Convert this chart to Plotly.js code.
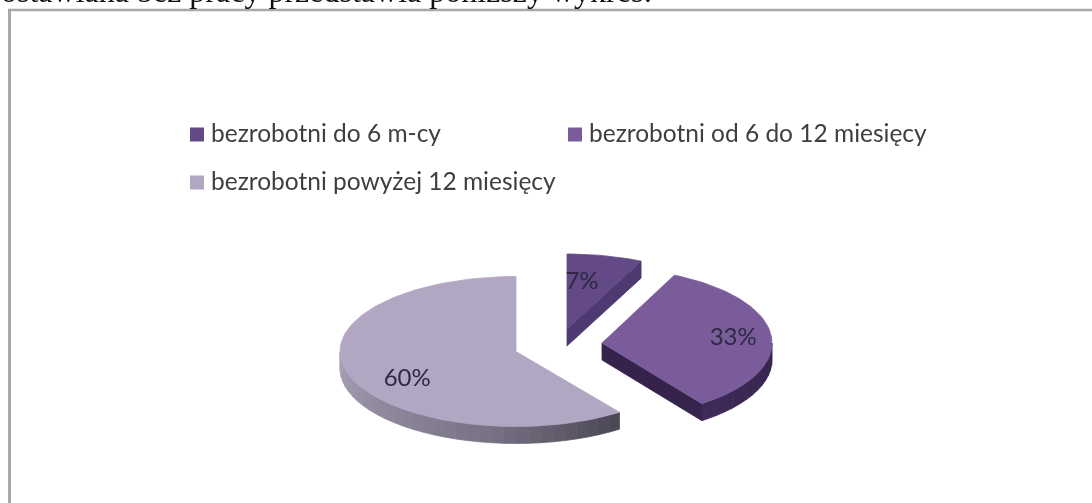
<!DOCTYPE html>
<html>
<head>
<meta charset="utf-8">
<script src="https://cdn.plot.ly/plotly-3.0.1.min.js"></script>
<style>html,body{margin:0;padding:0;background:#fff;overflow:hidden}#chart{width:1092px;height:503px}
.cartesianlayer{filter:blur(0.7px)}</style>
</head>
<body>
<div id="chart"></div>
<script>
// --- data ---
var categories = ['bezrobotni do 6 m-cy', 'bezrobotni od 6 do 12 miesięcy', 'bezrobotni powyżej 12 miesięcy'];
var shares = [7, 33, 60];
var introText = 'ostawiana bez pracy przedstawia poniższy wykres:';

// --- geometry & style (pixel-scaled axes) ---
var faceColors = ['#634a86', '#7b5c9b', '#b1a7c3'];
var sideStops = [
  [[0, '#4e3a70'], [1, '#4e3a70']],
  [[0, '#35234c'], [1, '#3f2b58']],
  [[0, '#4c4856'], [0.35, '#7a7386'], [0.65, '#8f889c'], [1, '#aaa3b6']]
];
var cutColors = ['#4e3a70', '#35234c', '#4c4856'];
var centerX = [567, 602, 516], centerY = [329, 343, 351.5];
var radiusX = [174, 170, 176], radiusY = 75, depth = 17;
var labelRadius = [0.5, 0.775, 0.65], labelNudgeX = [-4, 0, 0], labelNudgeY = [-9, 1, 13.5];
var swatchX = [197, 575, 197], swatchY = [134.5, 134.5, 182.5], textGap = 14, textDrop = 1.5;

function hexToRgb(h) { return [1, 3, 5].map(function (i) { return parseInt(h.substr(i, 2), 16); }); }
function ramp(stops, t) {
  for (var i = 1; i < stops.length; i++) {
    if (t <= stops[i][0]) {
      var a = stops[i - 1], b = stops[i], k = (t - a[0]) / (b[0] - a[0] || 1);
      var ca = hexToRgb(a[1]), cb = hexToRgb(b[1]);
      return 'rgb(' + ca.map(function (v, j) { return Math.round(v + (cb[j] - v) * k); }).join(',') + ')';
    }
  }
  return stops[stops.length - 1][1];
}
function pt(i, deg, dy) {
  var r = deg * Math.PI / 180;
  return [centerX[i] + radiusX[i] * Math.sin(r), centerY[i] - radiusY * Math.cos(r) + (dy || 0)];
}
function poly(points, color) {
  var xs = points.map(function (p) { return p[0]; }), ys = points.map(function (p) { return p[1]; });
  xs.push(xs[0]); ys.push(ys[0]);
  return { type: 'scatter', mode: 'lines', x: xs, y: ys, fill: 'toself', fillcolor: color,
           line: { color: color, width: 0.8 }, hoverinfo: 'skip', showlegend: false };
}

var traces = [], total = shares.reduce(function (a, b) { return a + b; }, 0), start = 0;
var labelX = [], labelY = [], labelText = [];
shares.forEach(function (v, i) {
  var end = start + v / total * 360;
  // cut face on the clockwise edge, only when it faces the viewer
  if (end > 0 && end < 180) {
    traces.push(poly([[centerX[i], centerY[i]], pt(i, end), pt(i, end, depth), [centerX[i], centerY[i] + depth]], cutColors[i]));
  }
  // front rim, split in short pieces so that it can carry a shade
  var from = Math.max(start, 90), to = Math.min(end, 270), step = 4;
  for (var a = from; a < to; a += step) {
    var b = Math.min(a + step, to);
    traces.push(poly([pt(i, a), pt(i, b), pt(i, b, depth), pt(i, a, depth)], ramp(sideStops[i], (a - from) / (to - from))));
  }
  // top face
  var face = [[centerX[i], centerY[i]]];
  for (var d = start; d < end; d += 2) face.push(pt(i, d));
  face.push(pt(i, end));
  traces.push(poly(face, faceColors[i]));
  // label
  var mid = (start + end) / 2, r = mid * Math.PI / 180;
  labelX.push(centerX[i] + radiusX[i] * labelRadius[i] * Math.sin(r) + labelNudgeX[i]);
  labelY.push(centerY[i] - radiusY * labelRadius[i] * Math.cos(r) + labelNudgeY[i]);
  labelText.push(v + '%');
  start = end;
});
traces.push({ type: 'scatter', mode: 'text', x: labelX, y: labelY, text: labelText, textposition: 'middle center',
  textfont: { family: 'Lato, sans-serif', size: 24, color: '#2e2844' }, hoverinfo: 'skip', showlegend: false });
categories.forEach(function (c, i) {
  traces.push({ type: 'scatter', mode: 'markers', name: c, x: [swatchX[i]], y: [swatchY[i]],
    marker: { symbol: 'square', size: 14, color: faceColors[i] }, hoverinfo: 'name', showlegend: false });
  traces.push({ type: 'scatter', mode: 'text', x: [swatchX[i] + textGap], y: [swatchY[i] + textDrop], text: [c],
    textposition: 'middle right', textfont: { family: 'Lato, sans-serif', size: 24.5, color: '#3f3f3f' },
    hoverinfo: 'skip', showlegend: false });
});

var layout = {
  width: 1092, height: 503, autosize: false, showlegend: false,
  margin: { l: 0, r: 0, t: 0, b: 0, pad: 0 },
  paper_bgcolor: '#ffffff', plot_bgcolor: '#ffffff',
  xaxis: { range: [0, 1092], visible: false, fixedrange: true },
  yaxis: { range: [503, 0], visible: false, fixedrange: true },
  shapes: [
    { type: 'line', xref: 'x', yref: 'y', x0: 8, x1: 1092, y0: 10, y1: 10, line: { color: '#a9a9a9', width: 2.5 } },
    { type: 'line', xref: 'x', yref: 'y', x0: 9.5, x1: 9.5, y0: 9, y1: 503, line: { color: '#a9a9a9', width: 3 } }
  ],
  annotations: [{ text: introText, showarrow: false, xref: 'x', yref: 'y', x: 0, y: 10, xanchor: 'left', yanchor: 'bottom',
    borderpad: 0, font: { family: 'Liberation Serif, serif', size: 32, color: '#111111' } }]
};
Plotly.newPlot('chart', traces, layout, { staticPlot: true, displayModeBar: false });
</script>
</body>
</html>
